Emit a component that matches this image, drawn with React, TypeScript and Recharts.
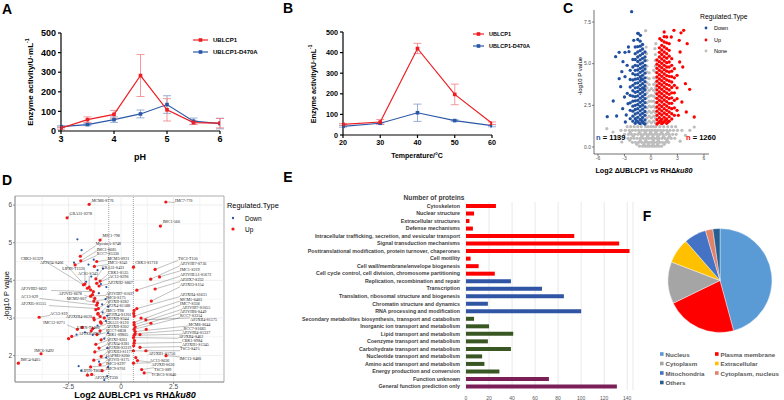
import {
  LineChart,
  Line,
  XAxis,
  YAxis,
  ErrorBar,
  ScatterChart,
  Scatter,
  ReferenceLine,
  ReferenceArea,
  BarChart,
  Bar,
  Cell,
  PieChart,
  Pie,
  CartesianGrid,
} from "recharts";

const SANS = "Arial, 'Liberation Sans', Helvetica, sans-serif";
const SERIF = "'Liberation Serif', 'Times New Roman', serif";
const RED = "#ee1d23";
const NAVY = "#2a58a6";

// --- A: pH profile ---
const phLevels = [3, 3.5, 4, 4.5, 5, 5.5, 6];
const phWildType = [15, 58, 85, 283, 108, 43, 40];
const phWildTypeSd = [6, 14, 20, 107, 57, 10, 24];
const phMutant = [22, 33, 58, 87, 135, 50, 38];
const phMutantSd = [5, 6, 14, 20, 45, 16, 27];

// --- B: temperature profile ---
const tempLevels = [20, 30, 40, 50, 60];
const tempWildType = [52, 63, 420, 197, 57];
const tempWildTypeSd = [4, 12, 25, 50, 6];
const tempMutant = [42, 57, 108, 70, 45];
const tempMutantSd = [4, 4, 42, 4, 5];

const activityTicks = [0, 100, 200, 300, 400, 500];

const volcanoDownColumns: [number, number[]][] = [
  [-0.68, [1.38, 1.62, 1.9, 2.13, 2.4, 2.66, 2.9, 3.15, 3.42, 3.66, 3.92, 4.15, 4.43, 4.68, 4.9, 5.18, 5.4, 5.7]],
  [-0.95, [1.5, 1.77, 2.02, 2.27, 2.52, 2.78, 3.03, 3.3, 3.55, 3.8, 4.05, 4.3, 4.57, 4.8, 5.05, 5.32, 5.6, 5.88, 6.15]],
  [-1.22, [1.4, 1.65, 1.92, 2.17, 2.43, 2.68, 2.93, 3.2, 3.45, 3.7, 3.96, 4.22, 4.48, 4.72, 4.98, 5.23, 5.5, 5.78, 6.05, 6.35]],
  [-1.5, [1.52, 1.78, 2.05, 2.3, 2.55, 2.8, 3.07, 3.33, 3.58, 3.85, 4.1, 4.35, 4.62, 4.87, 5.13, 5.4, 5.7, 6.02, 6.45, 6.82]],
  [-1.78, [1.42, 1.7, 1.98, 2.25, 2.5, 2.77, 3.02, 3.28, 3.55, 3.82, 4.07, 4.33, 4.6, 4.9, 5.25, 5.6, 6.0]],
  [-2.05, [1.55, 1.85, 2.15, 2.45, 2.75, 3.05, 3.38, 3.7, 4.02, 4.4, 4.8, 5.25]],
  [-2.35, [1.7, 2.2, 2.65, 3.1, 3.6, 4.05, 4.6]],
];
const volcanoDownOutliers: [number, number][] = [
  [-2.19, 8.12], [-1.44, 6.82], [-4.0, 5.42], [-3.6, 5.68], [-2.94, 5.68], [-2.49, 5.72],
  [-3.17, 5.12], [-4.27, 2.76], [-4.95, 1.82], [-3.89, 1.86], [-2.8, 1.92], [-3.43, 3.62],
  [-2.94, 4.22], [-2.68, 3.22], [-3.3, 4.52], [-2.6, 2.6], [-3.0, 3.0], [-2.7, 4.9],
  [-2.55, 6.0], [-1.95, 6.4], [-1.2, 6.7], [-3.2, 2.3], [-2.9, 1.5], [-3.6, 4.1],
  [-0.82, 1.42], [-1.08, 1.6], [-1.36, 1.45], [-1.64, 1.58], [-0.8, 3.5], [-1.1, 4.1],
];
const volcanoUpColumns: [number, number[]][] = [
  [0.68, [1.38, 1.64, 1.9, 2.15, 2.4, 2.67, 2.92, 3.18, 3.43, 3.68, 3.95, 4.2, 4.46, 4.72, 4.97, 5.22]],
  [0.95, [1.5, 1.76, 2.02, 2.28, 2.53, 2.8, 3.05, 3.3, 3.57, 3.82, 4.08, 4.34, 4.6, 4.86, 5.12, 5.4, 5.68, 5.95]],
  [1.22, [1.4, 1.66, 1.92, 2.17, 2.43, 2.7, 2.95, 3.2, 3.46, 3.72, 3.98, 4.24, 4.5, 4.76, 5.02, 5.28, 5.55, 5.82, 6.1, 6.4]],
  [1.5, [1.52, 1.78, 2.04, 2.3, 2.56, 2.82, 3.08, 3.34, 3.6, 3.86, 4.12, 4.38, 4.64, 4.9, 5.16, 5.42, 5.7, 6.0, 6.3, 6.62, 6.9]],
  [1.78, [1.42, 1.68, 1.95, 2.2, 2.46, 2.72, 2.98, 3.24, 3.5, 3.76, 4.02, 4.28, 4.55, 4.8, 5.06, 5.33, 5.6, 5.9, 6.25, 6.6]],
  [2.06, [1.55, 1.82, 2.1, 2.36, 2.62, 2.9, 3.16, 3.42, 3.7, 3.96, 4.24, 4.5, 4.8, 5.1, 5.45, 5.8, 6.2]],
  [2.35, [1.68, 2.0, 2.3, 2.62, 2.95, 3.25, 3.57, 3.9, 4.22, 4.55, 4.9, 5.3]],
  [2.65, [1.9, 2.35, 2.8, 3.25, 3.7, 4.15, 4.7]],
  [2.95, [2.2, 2.9, 3.55, 4.3]],
];
const volcanoUpOutliers: [number, number][] = [
  [4.1, 6.2], [4.38, 3.46], [4.9, 1.8], [4.0, 2.1], [3.7, 7.0], [3.4, 6.85], [3.2, 6.4],
  [2.6, 7.0], [3.3, 5.7], [3.6, 4.8], [3.5, 2.7], [3.9, 3.8], [3.1, 1.9], [2.3, 6.6],
  [1.0, 6.5], [3.25, 5.1], [0.82, 1.45], [1.1, 1.58], [1.36, 1.46], [1.64, 1.6], [1.92, 1.5],
];
const volcanoNoneRows: [number, number[]][] = [
  [0.05, [-1.3, -0.95, -0.65, -0.4, -0.15, 0.1, 0.35, 0.6, 0.9, 1.2]],
  [0.28, [-2.1, -1.75, -1.4, -1.05, -0.72, -0.42, -0.15, 0.12, 0.4, 0.68, 0.98, 1.3, 1.65, 2.0]],
  [0.52, [-2.6, -2.25, -1.9, -1.55, -1.2, -0.88, -0.55, -0.25, 0.05, 0.35, 0.62, 0.92, 1.25, 1.58, 1.92, 2.3, 2.7]],
  [0.76, [-3.0, -2.55, -2.2, -1.85, -1.5, -1.15, -0.82, -0.5, -0.2, 0.1, 0.4, 0.7, 1.0, 1.35, 1.7, 2.05, 2.45, 2.85]],
  [1.0, [-3.4, -2.9, -2.45, -2.1, -1.75, -1.4, -1.05, -0.75, -0.45, -0.15, 0.15, 0.45, 0.75, 1.08, 1.42, 1.78, 2.15, 2.55, 3.0, 3.5]],
  [1.22, [-2.7, -2.3, -1.9, -1.5, -1.1, -0.6, -0.3, 0.0, 0.28, 0.55, 1.0, 1.45, 1.9, 2.35, 2.8]],
  [0.16, [-1.6, -0.8, -0.28, 0.22, 0.75, 1.5]],
  [0.4, [-2.4, -1.22, -0.58, 0.26, 0.84, 1.82]],
  [0.64, [-2.0, -1.02, -0.38, 0.2, 0.78, 1.42, 2.1]],
  [0.88, [-2.35, -1.3, -0.64, -0.05, 0.56, 1.2, 1.9]],
];
const volcanoNoneColumns: [number, number[]][] = [
  [-0.45, [1.45, 1.75, 2.05, 2.35, 2.65, 2.95, 3.25, 3.55, 3.85, 4.15, 4.5, 4.85, 5.2]],
  [-0.2, [1.55, 1.85, 2.15, 2.45, 2.75, 3.05, 3.4, 3.75, 4.1, 4.45]],
  [0.05, [1.45, 1.75, 2.05, 2.4, 2.75, 3.1, 3.5]],
  [0.3, [1.55, 1.85, 2.15, 2.45, 2.75, 3.05, 3.4, 3.75, 4.15, 4.6]],
  [0.5, [1.45, 1.75, 2.05, 2.35, 2.65, 2.95, 3.25, 3.55, 3.85, 4.15, 4.5, 4.85, 5.2, 5.55]],
];
const volcanoNoneOutliers: [number, number][] = [
  [-4.3, 0.9], [-3.8, 0.6], [-5.0, 1.1], [3.9, 0.7], [4.4, 1.0], [-3.3, 0.3], [3.3, 0.35],
  [4.9, 1.2], [-0.6, 6.98], [-0.55, 6.0], [0.55, 6.2], [-0.5, 5.6], [0.45, 5.9],
];

// --- D: labelled volcano (name, log2FC, -log10P, label x, label y) ---
const dLabelRows: [string, number, number, number, number][] = [
  ["MCM6-S776", -1.52, 6.02, -1.4, 6.13],
  ["IMC7-770", 2.13, 6.08, 2.57, 6.12],
  ["GRA31-S278", -2.57, 5.66, -2.45, 5.77],
  ["IMC1-566", 1.87, 5.44, 1.98, 5.55],
  ["MIC1-798", -1.0, 5.07, -0.88, 5.18],
  ["MyosinA-S748", -1.94, 4.64, -1.21, 4.97],
  ["IMC1-S685", -1.92, 4.52, -1.16, 4.83],
  ["RCC7-S3330", -2.19, 4.41, -1.16, 4.71],
  ["MCM3-S921", -1.16, 4.5, -0.65, 4.59],
  ["IMC1-S341", -1.27, 4.37, -0.62, 4.47],
  ["GRA31-S431", -1.2, 4.04, -0.92, 4.33],
  ["CRK1-S535", -1.0, 3.98, -0.62, 4.22],
  ["AC13-S296", -1.16, 3.92, -0.58, 4.11],
  ["AP2XII2-S867", -1.05, 3.85, -0.62, 3.95],
  ["CRK3-S1329", -1.79, 3.88, -4.78, 4.57],
  ["AP2VI4-S406", -1.6, 3.79, -3.86, 4.47],
  ["LIPIN-T1320", -1.72, 3.9, -2.8, 4.32],
  ["ACS1-S343", -1.52, 3.82, -2.05, 4.17],
  ["AP2VIII2-S622", -1.32, 3.7, -4.78, 3.78],
  ["AP2VI3-S678", -1.25, 3.52, -2.98, 3.65],
  ["AC13-S29", -1.16, 3.34, -4.78, 3.57],
  ["AP2XI5-S1515", -1.08, 3.25, -4.78, 3.38],
  ["MCM2-S07", -1.12, 3.4, -2.59, 3.51],
  ["AC13-S19", -3.9, 3.02, -3.38, 3.12],
  ["AP2XIII4-S620", -1.3, 3.0, -2.63, 3.03],
  ["IMC12-S271", -2.08, 2.7, -3.7, 2.87],
  ["LIPIN-T1400", -1.85, 2.75, -2.1, 2.76],
  ["AP2XII-S907", -2.35, 2.51, -2.03, 2.58],
  ["IMC6-S492", -3.81, 2.05, -4.13, 2.14],
  ["IMC4-S405", -4.89, 1.8, -4.78, 1.91],
  ["LIPIN-T802", -1.6, 1.48, -1.9, 1.61],
  ["AP2VIII7-S1037", -1.45, 3.58, -0.72, 3.65],
  ["IMC6-S175", -1.3, 3.45, -0.72, 3.54],
  ["AP2XII-S282", -1.2, 3.22, -0.72, 3.43],
  ["AP2X4-S1588", -1.1, 3.1, -0.72, 3.32],
  ["IMC1-T98", -1.0, 3.04, -0.72, 3.21],
  ["AP2IX4-S1201", -1.28, 2.95, -0.72, 3.1],
  ["AP2XII-S344", -0.95, 2.86, -0.72, 2.99],
  ["GRA31-S120", -1.35, 2.72, -0.72, 2.88],
  ["AP2XII-S302", -1.0, 2.66, -0.72, 2.77],
  ["RCC7-S838", -1.15, 2.56, -0.72, 2.66],
  ["CBK1-S9865", -0.95, 2.42, -0.72, 2.55],
  ["AP2XI-S261", -1.2, 2.3, -0.72, 2.44],
  ["AP2XI4-S381", -1.05, 2.2, -0.72, 2.33],
  ["AP2XI8-S3219", -1.25, 2.1, -0.72, 2.22],
  ["AP2XII3-S1177", -0.95, 1.98, -0.72, 2.11],
  ["GAPM3-S200", -1.3, 1.88, -0.72, 2.0],
  ["AP2VI1-S175", -1.0, 1.76, -0.72, 1.89],
  ["IMC3-S297", -1.45, 1.7, -0.72, 1.78],
  ["IMC9-S701", -0.9, 1.6, -0.72, 1.67],
  ["AP2XII-T330", -1.4, 1.5, -1.25, 1.42],
  ["CRK3-S1718", 0.59, 4.35, 0.67, 4.47],
  ["TSC3-T150", 1.62, 4.29, 2.71, 4.58],
  ["AP2VIII7-S736", 1.41, 4.03, 2.81, 4.44],
  ["IMC1-S219", 1.83, 4.09, 2.81, 4.3],
  ["AP2VIIIA1-S1672", 0.75, 3.74, 2.81, 4.16],
  ["AP2IX7-S232", 1.62, 3.77, 2.81, 4.02],
  ["AP2XI3-S154", 1.44, 3.45, 2.81, 3.88],
  ["AP2XII4-S1631", 0.75, 3.25, 2.81, 3.62],
  ["MCM1-S403", 0.62, 3.05, 2.81, 3.5],
  ["IMC7-S358", 0.62, 2.88, 2.81, 3.39],
  ["AP2VIII7-S1055", 0.62, 2.82, 2.9, 3.28],
  ["AP2VIII6-S449", 0.67, 2.76, 2.81, 3.17],
  ["RCC7-S3314", 0.62, 2.7, 2.81, 3.06],
  ["AP2XII4-S1575", 1.18, 2.95, 3.29, 2.95],
  ["MCM6-S644", 0.67, 2.64, 3.21, 2.84],
  ["RCC7-S1683", 0.67, 2.58, 2.97, 2.73],
  ["AP2VIII4-S1337", 0.62, 2.54, 2.9, 2.62],
  ["AP2XII4-S462", 0.59, 2.48, 2.73, 2.51],
  ["CBK1-S984", 0.62, 2.33, 2.9, 2.4],
  ["AP2XII1-S1345", 0.9, 2.22, 2.9, 2.29],
  ["TSC3-S425", 1.18, 2.13, 2.81, 2.18],
  ["AP2XII1-S1756", 0.59, 2.13, 1.3, 2.07],
  ["IMC13-S480", 2.14, 2.0, 2.78, 1.92],
  ["AC13-S636", 0.78, 1.87, 1.37, 1.88],
  ["AP2XII-S630", 0.59, 1.8, 1.45, 1.76],
  ["TSC3-S89", 0.98, 1.63, 1.57, 1.63],
  ["TCBC3-S1646", 1.1, 1.54, 1.45, 1.5],
];
const dDownPoints: [number, number][] = [
  [-2.08, 5.09], [-1.88, 4.8], [-2.24, 4.47], [-1.3, 4.55], [-1.55, 4.42], [-1.12, 4.27],
  [-0.86, 4.31], [-1.42, 4.1], [-0.96, 3.9], [-0.7, 3.82], [-1.66, 3.96], [-1.06, 3.66],
  [-0.74, 3.5], [-0.62, 3.3], [-0.9, 3.36], [-0.66, 3.06], [-0.72, 2.92], [-1.12, 2.8],
  [-0.62, 2.6], [-0.8, 2.45], [-1.72, 2.62], [-2.12, 2.56], [-0.66, 2.2], [-0.71, 1.95],
  [-1.05, 1.84], [-2.02, 1.72], [-1.9, 1.6], [-0.66, 1.46], [-0.8, 1.35], [-0.62, 1.7],
  [-1.35, 2.55], [-0.88, 3.15],
];
const dUpPoints: [number, number][] = [
  [0.62, 3.2], [0.6, 3.12], [1.2, 2.7], [0.9, 2.56], [0.64, 2.4], [0.6, 2.26], [1.42, 2.86],
  [-1.45, 3.75], [-1.36, 3.62], [-1.1, 3.12], [-0.98, 2.9], [-0.8, 3.0], [-1.42, 2.66],
  [-2.5, 2.45], [0.95, 3.0], [0.7, 1.95],
];

// --- E: COG categories ---
const cogNames = [
  "Cytoskeleton",
  "Nuclear structure",
  "Extracellular structures",
  "Defense mechanisms",
  "Intracellular trafficking, secretion, and vesicular transport",
  "Signal transduction mechanisms",
  "Posttranslational modification, protein turnover, chaperones",
  "Cell motility",
  "Cell wall/membrane/envelope biogenesis",
  "Cell cycle control, cell division, chromosome partitioning",
  "Replication, recombination and repair",
  "Transcription",
  "Translation, ribosomal structure and biogenesis",
  "Chromatin structure and dynamics",
  "RNA processing and modification",
  "Secondary metabolites biosynthesis, transport and catabolism",
  "Inorganic ion transport and metabolism",
  "Lipid transport and metabolism",
  "Coenzyme transport and metabolism",
  "Carbohydrate transport and metabolism",
  "Nucleotide transport and metabolism",
  "Amino acid transport and metabolism",
  "Energy production and conversion",
  "Function unknown",
  "General function prediction only",
];
const cogCounts = [26, 7, 3, 6, 94, 133, 142, 4, 11, 25, 39, 66, 85, 19, 100, 7, 20, 41, 19, 39, 14, 16, 29, 72, 131];
const cogGroup = [0, 0, 0, 0, 0, 0, 0, 0, 0, 0, 1, 1, 1, 1, 1, 2, 2, 2, 2, 2, 2, 2, 2, 3, 3];
const cogGroupColors = ["#ff0000", "#2f55a4", "#385723", "#7a1f58"];
const cogTicks = [0, 20, 40, 60, 80, 100, 120, 140];

// --- F: subcellular localisation ---
const locNames = ["Nucleus", "Plasma membrane", "Cytoplasm", "Extracellular", "Mitochondria", "Cytoplasm, nucleus", "Others"];
const locShares = [45.8, 22.0, 13.0, 7.8, 6.9, 2.3, 2.2];
const locColors = ["#5b9bd5", "#ff0000", "#a5a5a5", "#ffc000", "#4472c4", "#e2826a", "#255e91"];

const phData = phLevels.map((x, i) => ({ x, wt: phWildType[i], wtSd: phWildTypeSd[i], mut: phMutant[i], mutSd: phMutantSd[i] }));
const tempData = tempLevels.map((x, i) => ({ x, wt: tempWildType[i], wtSd: tempWildTypeSd[i], mut: tempMutant[i], mutSd: tempMutantSd[i] }));

const fromColumns = (cols: [number, number[]][]) => cols.flatMap(([x, ys]) => ys.map((y) => ({ x, y })));
const fromRows = (rows: [number, number[]][]) => rows.flatMap(([y, xs]) => xs.map((x) => ({ x, y })));
const fromPairs = (pairs: [number, number][]) => pairs.map(([x, y]) => ({ x, y }));

const volcanoDown = [...fromColumns(volcanoDownColumns), ...fromPairs(volcanoDownOutliers)];
const volcanoUp = [...fromColumns(volcanoUpColumns), ...fromPairs(volcanoUpOutliers)];
const volcanoNone = [...fromRows(volcanoNoneRows), ...fromColumns(volcanoNoneColumns), ...fromPairs(volcanoNoneOutliers)];

const CHAR_W = 0.112; // label width per character, in log2FC units
const dLabelled = dLabelRows.map(([name, x, y, lx, ly]) => {
  const ex = Math.min(Math.max(x, lx), lx + name.length * CHAR_W);
  const ey = y < ly ? ly - 0.05 : ly + 0.05;
  return { name, x, y, lx, ly, ex, ey };
});

const cogRows = cogNames.map((name, i) => ({ name, count: cogCounts[i], group: cogGroup[i] }));
const locData = locNames.map((name, i) => ({ name, value: locShares[i] }));

// eslint-disable-next-line @typescript-eslint/no-explicit-any
const squareDot = (color: string) => (p: any) => (
  <rect key={`sq-${p.index}`} x={p.cx - 1.8} y={p.cy - 1.8} width={3.6} height={3.6} fill={color} />
);
// eslint-disable-next-line @typescript-eslint/no-explicit-any
const circleDot = (r: number, color: string) => (p: any) => <circle cx={p.cx} cy={p.cy} r={r} fill={color} />;

function ActivityChart({
  data,
  xDomain,
  xTicks,
  margin,
  tickFont,
}: {
  data: typeof phData;
  xDomain: [number, number];
  xTicks: number[];
  margin: { top: number; right: number; bottom: number; left: number };
  tickFont: number;
}) {
  const tick = { fontSize: tickFont, fontWeight: 700, fill: "#000", fontFamily: SANS };
  const axis = { stroke: "#000", strokeWidth: 1.2 };
  return (
    <LineChart width={260} height={170} data={data} margin={margin}>
      <XAxis
        type="number"
        dataKey="x"
        domain={xDomain}
        ticks={xTicks}
        interval={0}
        height={20}
        tick={tick}
        tickSize={3}
        tickMargin={2}
        axisLine={axis}
        tickLine={axis}
        allowDataOverflow
      />
      <YAxis
        type="number"
        domain={[0, 500]}
        ticks={activityTicks}
        interval={0}
        width={20}
        tick={tick}
        tickSize={3}
        tickMargin={2}
        axisLine={axis}
        tickLine={axis}
        allowDataOverflow
      />
      <Line dataKey="mut" stroke={NAVY} strokeWidth={1.2} dot={squareDot(NAVY)} isAnimationActive={false}>
        <ErrorBar dataKey="mutSd" width={4} stroke="#7f9ccc" strokeWidth={0.8} direction="y" />
      </Line>
      <Line dataKey="wt" stroke={RED} strokeWidth={1.2} dot={squareDot(RED)} isAnimationActive={false}>
        <ErrorBar dataKey="wtSd" width={4} stroke="#f27f83" strokeWidth={0.8} direction="y" />
      </Line>
    </LineChart>
  );
}

function VolcanoChart() {
  const tick = { fontSize: 5, fill: "#4d4d4d", fontFamily: SANS };
  return (
    <ScatterChart width={264} height={180} margin={{ top: 10, right: 75, bottom: 14, left: 60 }}>
      <XAxis
        type="number"
        dataKey="x"
        domain={[-6.45, 6.57]}
        ticks={[-6, -3, 0, 3, 6]}
        interval={0}
        height={12}
        tick={tick}
        tickSize={2}
        tickMargin={0}
        axisLine={{ stroke: "#333", strokeWidth: 0.7 }}
        tickLine={{ stroke: "#333", strokeWidth: 0.6 }}
        allowDataOverflow
      />
      <YAxis
        type="number"
        dataKey="y"
        domain={[-0.42, 8.22]}
        ticks={[0, 2.5, 5, 7.5]}
        interval={0}
        width={14}
        tick={tick}
        tickSize={2}
        tickMargin={1}
        tickFormatter={(v: number) => v.toFixed(1)}
        axisLine={{ stroke: "#333", strokeWidth: 0.7 }}
        tickLine={{ stroke: "#333", strokeWidth: 0.6 }}
        allowDataOverflow
      />
      <Scatter data={volcanoNone} shape={circleDot(1.6, "#bdbdbd")} isAnimationActive={false} />
      <Scatter data={volcanoDown} shape={circleDot(1.65, "#21509e")} isAnimationActive={false} />
      <Scatter data={volcanoUp} shape={circleDot(1.65, "#ff0000")} isAnimationActive={false} />
    </ScatterChart>
  );
}

function LabelledVolcano() {
  const tick = { fontSize: 6.5, fill: "#4d4d4d", fontFamily: SANS };
  const gridX = [-3.75, -2.5, -1.25, 0, 1.25, 2.5, 3.75];
  const gridY = [1.5, 2, 2.5, 3, 3.5, 4, 4.5, 5, 5.5, 6];
  return (
    <ScatterChart width={260} height={210} margin={{ top: 6, right: 36, bottom: 8, left: 3 }}>
      {gridX.map((v) => (
        <ReferenceLine key={`gx${v}`} x={v} stroke="#e6e6e6" strokeWidth={v % 2.5 === 0 ? 0.7 : 0.4} />
      ))}
      {gridY.map((v) => (
        <ReferenceLine key={`gy${v}`} y={v} stroke="#e6e6e6" strokeWidth={v % 1 === 0 ? 0.7 : 0.4} />
      ))}
      <ReferenceLine x={-0.585} stroke="#666" strokeWidth={0.6} strokeDasharray="1 1" />
      <ReferenceLine x={0.585} stroke="#666" strokeWidth={0.6} strokeDasharray="1 1" />
      <XAxis
        type="number"
        dataKey="x"
        domain={[-5.05, 4.9]}
        ticks={[-2.5, 0, 2.5]}
        interval={0}
        height={10}
        tick={tick}
        tickSize={2}
        tickMargin={0}
        axisLine={{ stroke: "#8a8a8a", strokeWidth: 0.7 }}
        tickLine={{ stroke: "#555", strokeWidth: 0.6 }}
        allowDataOverflow
      />
      <YAxis
        type="number"
        dataKey="y"
        domain={[1.3, 6.24]}
        ticks={[2, 3, 4, 5, 6]}
        interval={0}
        width={12}
        tick={tick}
        tickSize={2}
        tickMargin={1}
        axisLine={{ stroke: "#8a8a8a", strokeWidth: 0.7 }}
        tickLine={{ stroke: "#555", strokeWidth: 0.6 }}
        allowDataOverflow
      />
      <ReferenceArea x1={-5.05} x2={4.9} y1={1.3} y2={6.24} fill="none" stroke="#8a8a8a" strokeWidth={0.7} ifOverflow="visible" />
      {dLabelled.map((d) => (
        <ReferenceLine
          key={`seg-${d.name}`}
          segment={[
            { x: d.x, y: d.y },
            { x: d.ex, y: d.ey },
          ]}
          stroke="#4a4a4a"
          strokeWidth={0.35}
        />
      ))}
      <Scatter data={fromPairs(dDownPoints)} shape={circleDot(1.1, "#2c5aa8")} isAnimationActive={false} />
      <Scatter data={fromPairs(dUpPoints)} shape={circleDot(1.6, "#f01818")} isAnimationActive={false} />
      <Scatter data={dLabelled} shape={circleDot(1.6, "#f01818")} isAnimationActive={false} />
      <Scatter
        data={dLabelled.map((d) => ({ x: d.lx, y: d.ly, name: d.name }))}
        // eslint-disable-next-line @typescript-eslint/no-explicit-any
        shape={(p: any) => (
          <text x={p.cx} y={p.cy} fontSize={4.1} fontFamily={SERIF} fill="#222" dominantBaseline="central">
            {p.payload.name}
          </text>
        )}
        isAnimationActive={false}
      />
    </ScatterChart>
  );
}

// eslint-disable-next-line @typescript-eslint/no-explicit-any
function CogTick(p: any) {
  return (
    <text
      x={p.x}
      y={p.y}
      textAnchor="end"
      dominantBaseline="central"
      fontSize={5.3}
      fontWeight={700}
      fill="#404040"
      fontFamily={SANS}
    >
      {p.payload.value}
    </text>
  );
}

function CogChart() {
  return (
    <BarChart width={380} height={214} data={cogRows} layout="vertical" margin={{ top: 12, right: 7, bottom: 2, left: 6 }}>
      <CartesianGrid horizontal={false} stroke="#d9d9d9" strokeWidth={0.6} />
      <XAxis
        type="number"
        domain={[0, 145]}
        ticks={cogTicks}
        interval={0}
        height={12}
        axisLine={false}
        tickLine={false}
        tickSize={4}
        tickMargin={2}
        tick={{ fontSize: 5, fill: "#595959", fontFamily: SANS }}
        allowDataOverflow
      />
      <YAxis
        type="category"
        dataKey="name"
        width={200}
        interval={0}
        axisLine={false}
        tickLine={false}
        tickSize={4}
        tickMargin={2}
        tick={<CogTick />}
      />
      <Bar dataKey="count" barSize={4} isAnimationActive={false}>
        {cogRows.map((r) => (
          <Cell key={r.name} fill={cogGroupColors[r.group]} />
        ))}
      </Bar>
    </BarChart>
  );
}

function LocationPie() {
  return (
    <PieChart width={144} height={140} margin={{ top: 0, right: 0, bottom: 0, left: 0 }}>
      <Pie
        data={locData}
        dataKey="value"
        cx={80}
        cy={70.5}
        outerRadius={52}
        startAngle={90}
        endAngle={-270}
        stroke="#ffffff"
        strokeWidth={0.4}
        isAnimationActive={false}
      >
        {locData.map((d, i) => (
          <Cell key={d.name} fill={locColors[i]} />
        ))}
      </Pie>
    </PieChart>
  );
}

function Txt({
  x,
  y,
  size,
  weight = 400,
  anchor = "start",
  fill = "#000",
  family = SANS,
  rotate,
  children,
}: {
  x: number;
  y: number;
  size: number;
  weight?: number;
  anchor?: "start" | "middle" | "end";
  fill?: string;
  family?: string;
  rotate?: number;
  children: React.ReactNode;
}) {
  return (
    <text
      x={x}
      y={y}
      fontSize={size}
      fontWeight={weight}
      textAnchor={anchor}
      fill={fill}
      fontFamily={family}
      dominantBaseline="central"
      transform={rotate ? `rotate(${rotate} ${x} ${y})` : undefined}
    >
      {children}
    </text>
  );
}

function LineKey({ x, y, color, label, size, len }: { x: number; y: number; color: string; label: string; size: number; len: number }) {
  return (
    <g>
      <line x1={x} x2={x + len} y1={y} y2={y} stroke={color} strokeWidth={1.2} />
      <rect x={x + len / 2 - 1.8} y={y - 1.8} width={3.6} height={3.6} fill={color} />
      <Txt x={x + len + 5} y={y} size={size} weight={700}>
        {label}
      </Txt>
    </g>
  );
}

const abs = (left: number, top: number): React.CSSProperties => ({ position: "absolute", left, top });

export default function App() {
  const enzymeTitle = (x: number, y: number, size: number) => (
    <Txt x={x} y={y} size={size} weight={700} anchor="middle" rotate={-90}>
      Enzyme activity/U·mL
      <tspan fontSize={size * 0.65} dy={-size * 0.35}>
        -1
      </tspan>
    </Txt>
  );
  const log2Title = (x: number, y: number, size: number) => (
    <Txt x={x} y={y} size={size} weight={700} anchor="middle">
      Log2 ΔUBLCP1 vs RHΔ<tspan fontStyle="italic">ku80</tspan>
    </Txt>
  );
  const legendRows: [number, number][] = [
    [0, 1],
    [2, 3],
    [4, 5],
    [6, -1],
  ];

  return (
    <div style={{ position: "absolute", left: 0, top: 0, width: 784, height: 400, background: "#fff", overflow: "hidden" }}>
      <div style={abs(0, 0)}>
        <ActivityChart data={phData} xDomain={[3, 6]} xTicks={[3, 4, 5, 6]} margin={{ top: 33, right: 40, bottom: 19, left: 41 }} tickFont={9} />
      </div>
      <div style={abs(260, 0)}>
        <ActivityChart data={tempData} xDomain={[20, 60]} xTicks={[20, 30, 40, 50, 60]} margin={{ top: 32, right: 28, bottom: 15, left: 63 }} tickFont={7.2} />
      </div>
      <div style={abs(520, 0)}>
        <VolcanoChart />
      </div>
      <div style={abs(0, 190)}>
        <LabelledVolcano />
      </div>
      <div style={abs(260, 190)}>
        <CogChart />
      </div>
      <div style={abs(640, 210)}>
        <LocationPie />
      </div>

      <svg width={784} height={400} style={{ position: "absolute", left: 0, top: 0, pointerEvents: "none" }}>
        {/* panel letters */}
        <Txt x={7} y={9} size={14} weight={700} anchor="middle">A</Txt>
        <Txt x={288} y={8} size={14} weight={700} anchor="middle">B</Txt>
        <Txt x={568} y={8} size={14} weight={700} anchor="middle">C</Txt>
        <Txt x={7} y={180} size={14} weight={700} anchor="middle">D</Txt>
        <Txt x={288} y={177} size={14} weight={700} anchor="middle">E</Txt>
        <Txt x={647} y={216} size={14} weight={700} anchor="middle">F</Txt>

        {/* A */}
        {enzymeTitle(30, 82, 8)}
        <Txt x={140} y={157} size={9} weight={700} anchor="middle">pH</Txt>
        <LineKey x={193} y={40} color={RED} label="UBLCP1" size={6} len={15} />
        <LineKey x={193} y={52} color={NAVY} label="UBLCP1-D470A" size={6} len={15} />

        {/* B */}
        {enzymeTitle(313, 84, 7.2)}
        <Txt x={417} y={155} size={7} weight={700} anchor="middle">Temperature/°C</Txt>
        <LineKey x={473} y={34} color={RED} label="UBLCP1" size={5.5} len={11} />
        <LineKey x={473} y={46} color={NAVY} label="UBLCP1-D470A" size={5.5} len={11} />

        {/* C */}
        <Txt x={580} y={76} size={6} anchor="middle" rotate={-90}>-log10 P value</Txt>
        {log2Title(644, 170, 7.2)}
        <Txt x={700} y={16} size={6.8}>Regulated.Type</Txt>
        <circle cx={706} cy={28} r={1.4} fill="#21509e" />
        <Txt x={714} y={28} size={5.5}>Down</Txt>
        <circle cx={706} cy={40} r={1.4} fill="#ff0000" />
        <Txt x={714} y={40} size={5.5}>Up</Txt>
        <circle cx={706} cy={51} r={1.4} fill="#bdbdbd" />
        <Txt x={714} y={51} size={5.5}>None</Txt>
        <Txt x={596} y={137} size={7.5} weight={700}>
          <tspan fill="#2856a3">n</tspan> = 1139
        </Txt>
        <Txt x={686} y={137} size={7.5} weight={700}>
          <tspan fill="#ff0000">n</tspan> = 1260
        </Txt>

        {/* D */}
        <Txt x={6} y={295} size={7.5} anchor="middle" rotate={-90}>-log10 P value</Txt>
        {log2Title(135, 395, 9)}
        <Txt x={227} y={205} size={7.4}>Regulated.Type</Txt>
        <circle cx={233} cy={218} r={1.2} fill="#2c5aa8" />
        <Txt x={245} y={218} size={6.5}>Down</Txt>
        <circle cx={233} cy={229} r={1.6} fill="#f01818" />
        <Txt x={245} y={229} size={6.5}>Up</Txt>

        {/* E */}
        <Txt x={434} y={197} size={6.6} weight={700} anchor="middle" fill="#404040">Number of proteins</Txt>

        {/* F legend */}
        {legendRows.map((row, ri) =>
          row.map((idx, ci) =>
            idx < 0 ? null : (
              <g key={`lg-${idx}`}>
                <rect x={[660, 715][ci]} y={354 + ri * 9.5 - 1.8} width={3.6} height={3.6} fill={locColors[idx]} />
                <Txt x={[665.5, 720.5][ci]} y={354 + ri * 9.5} size={6.2} weight={700} fill="#595959">
                  {locNames[idx]}
                </Txt>
              </g>
            ),
          ),
        )}
      </svg>
    </div>
  );
}
